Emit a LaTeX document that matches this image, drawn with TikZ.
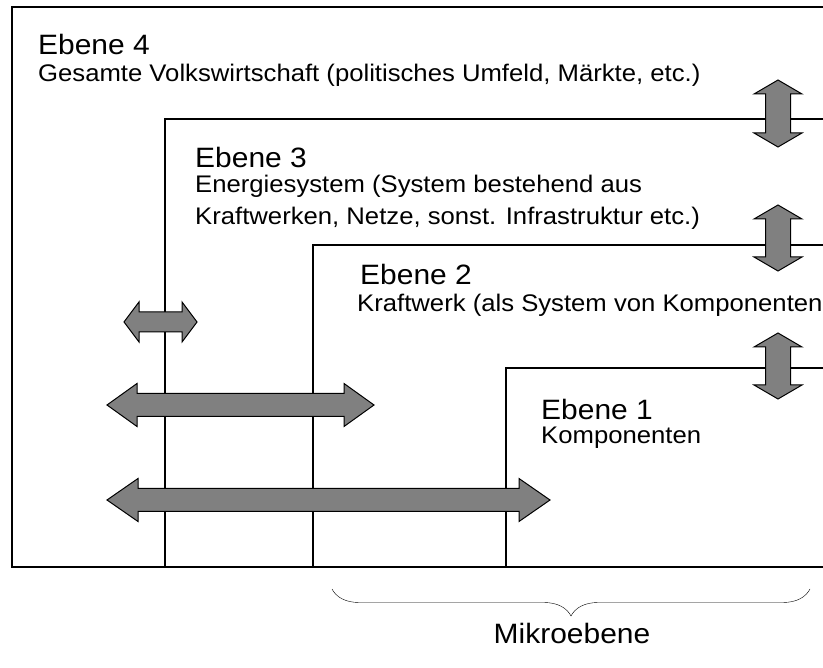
\documentclass[tikz,border=0pt]{standalone}
\usepackage{fontspec}
\setmainfont{Liberation Sans}[FakeStretch=1.07]
\usepackage{tikz}
\usetikzlibrary{positioning,calc,decorations.pathreplacing}

% block arrows: from, to, position, head length, half shaft, half head
\newcommand{\harrow}[6]{%
  \draw[blockarrow] (#1,#3) -- ({#1+#4},{#3-#6}) -- ({#1+#4},{#3-#5})
    -- ({#2-#4},{#3-#5}) -- ({#2-#4},{#3-#6}) -- (#2,#3)
    -- ({#2-#4},{#3+#6}) -- ({#2-#4},{#3+#5}) -- ({#1+#4},{#3+#5})
    -- ({#1+#4},{#3+#6}) -- cycle;}
\newcommand{\varrow}[6]{%
  \draw[blockarrow] (#3,#1) -- ({#3-#6},{#1+#4}) -- ({#3-#5},{#1+#4})
    -- ({#3-#5},{#2-#4}) -- ({#3-#6},{#2-#4}) -- (#3,#2)
    -- ({#3+#6},{#2-#4}) -- ({#3+#5},{#2-#4}) -- ({#3+#5},{#1+#4})
    -- ({#3+#6},{#1+#4}) -- cycle;}

\begin{document}
\begin{tikzpicture}[x=1pt, y=-1pt,
    level/.style={line width=1.2pt},
    blockarrow/.style={draw=black, line width=1pt, fill=gray, line join=miter},
    title/.style={anchor=base west, inner sep=0pt, font=\fontsize{28}{32}\selectfont},
    desc/.style={anchor=base west, inner sep=0pt, font=\fontsize{24}{28}\selectfont}]
    \useasboundingbox (0,0) rectangle (823,668);

    % Ebenen
    \draw[level] (830,7) -- (12,7) -- (12,567) -- (830,567);
    \draw[level] (830,119) -- (165,119) -- (165,567);
    \draw[level] (830,245) -- (313,245) -- (313,567);
    \draw[level] (830,368) -- (506,368) -- (506,567);

    % Texte
    \node[title] (e4) at (38,55) {Ebene 4};
    \node[desc] (e4d) at (38,82) {Gesamte Volkswirtschaft (politisches Umfeld, Märkte, etc.)};
    \node[title] (e3) at (195,168) {Ebene 3};
    \node[desc] (e3d) at (195,193) {Energiesystem (System bestehend aus};
    \node[desc] (e3e) at (195,225) {Kraftwerken, Netze, sonst. Infrastruktur etc.)};
    \node[title] (e2) at (360,285) {Ebene 2};
    \node[desc] (e2d) at (357,312) {Kraftwerk (als System von Komponenten};
    \node[title] (e1) at (541,420) {Ebene 1};
    \node[desc] (e1d) at (541,444) {Komponenten};

    % Pfeile
    \varrow{80}{147}{778}{14}{12.5}{24}
    \varrow{205}{271}{778}{14}{12.5}{24}
    \varrow{333}{399}{778}{14}{12.5}{24}
    \harrow{124}{197}{322}{15}{10}{20}
    \harrow{107}{374}{405}{30}{11.5}{21.5}
    \harrow{107}{550}{500}{31}{11.5}{21.5}

    % Mikroebene
    \coordinate (bl) at (332,589);
    \coordinate (br) at (810,589);
    \draw[decorate, decoration={brace, mirror, amplitude=27pt}] (bl) -- (br);
    \node[title, anchor=base] (mikro) at (572,643) {Mikroebene};
\end{tikzpicture}
\end{document}
